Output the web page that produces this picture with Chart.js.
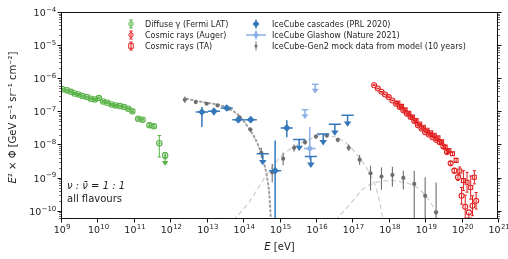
<!DOCTYPE html>
<html><head><meta charset="utf-8">
<script src="https://cdn.jsdelivr.net/npm/chart.js@4.4.0/dist/chart.umd.min.js"></script>
<style>html,body{margin:0;padding:0;background:#fff;overflow:hidden}</style>
</head><body>
<canvas id="c" width="508" height="259"></canvas>
<script>
// ---------- axis ticks ----------
const xTickExp = [9,10,11,12,13,14,15,16,17,18,19,20,21];
const xTickLabels = ['10⁹','10¹⁰','10¹¹','10¹²','10¹³','10¹⁴','10¹⁵','10¹⁶','10¹⁷','10¹⁸','10¹⁹','10²⁰','10²¹'];
const yTickExp = [-10,-9,-8,-7,-6,-5,-4];
const yTickLabels = ['10⁻¹⁰','10⁻⁹','10⁻⁸','10⁻⁷','10⁻⁶','10⁻⁵','10⁻⁴'];

// ---------- data (log10 E [eV], log10 flux) ----------
// Diffuse gamma (Fermi LAT)
const fermiLogE = [9.04,9.16,9.27,9.37,9.48,9.59,9.71,9.82,9.93,10.04,10.16,10.27,10.39,10.50,10.62,10.73,10.85,10.96,11.12,11.24,11.43,11.55,11.70,11.86];
const fermiLogY = [-6.33,-6.36,-6.41,-6.46,-6.49,-6.54,-6.57,-6.62,-6.64,-6.60,-6.70,-6.74,-6.79,-6.82,-6.84,-6.87,-6.92,-7.00,-7.22,-7.25,-7.42,-7.45,-7.96,-8.33];
const fermiErrLo = [0.03,0.03,0.03,0.03,0.03,0.03,0.03,0.03,0.03,0.03,0.03,0.03,0.03,0.03,0.03,0.03,0.03,0.04,0.04,0.04,0.05,0.05,0.42,0.1];
const fermiErrHi = [0.03,0.03,0.03,0.03,0.03,0.03,0.03,0.03,0.03,0.03,0.03,0.03,0.03,0.03,0.03,0.03,0.03,0.04,0.04,0.04,0.05,0.05,0.23,0.08];
const fermiUL = [0,0,0,0,0,0,0,0,0,0,0,0,0,0,0,0,0,0,0,0,0,0,0,1];

// Cosmic rays (Auger)
const augerLogE = [17.6,17.7,17.8,17.9,18.0,18.1,18.2,18.3,18.4,18.5,18.6,18.7,18.8,18.9,19.0,19.1,19.2,19.3,19.4,19.5,19.6,19.7,19.8,19.9,20.0,20.1,20.2,20.3,20.4];
const augerLogY = [-6.21,-6.31,-6.41,-6.49,-6.57,-6.67,-6.77,-6.87,-6.97,-7.07,-7.17,-7.29,-7.42,-7.52,-7.63,-7.70,-7.78,-7.86,-7.93,-8.06,-8.23,-8.57,-8.79,-8.99,-9.55,-9.88,-10.05,-9.85,-9.70];
const augerErr = [0.01,0.01,0.01,0.01,0.01,0.01,0.01,0.01,0.01,0.01,0.01,0.01,0.01,0.01,0.02,0.02,0.02,0.02,0.03,0.03,0.04,0.05,0.07,0.1,0.25,0.35,0,0.3,0.25];
const augerUL = [0,0,0,0,0,0,0,0,0,0,0,0,0,0,0,0,0,0,0,0,0,0,0,0,0,0,1,0,0];

// Cosmic rays (TA)
const taLogE = [18.25,18.35,18.45,18.55,18.65,18.75,18.85,18.95,19.05,19.15,19.25,19.35,19.45,19.55,19.65,19.75,19.85,19.95,20.05,20.15,20.25,20.35];
const taLogY = [-6.75,-6.85,-6.95,-7.06,-7.17,-7.28,-7.38,-7.48,-7.57,-7.65,-7.72,-7.80,-7.92,-8.08,-8.18,-8.28,-8.48,-8.80,-9.09,-9.14,-9.30,-8.99];
const taErr = [0.02,0.02,0.02,0.02,0.02,0.02,0.02,0.02,0.02,0.02,0.03,0.03,0.03,0.04,0.04,0.05,0.06,0.12,0.3,0.3,0.35,0.2];

// IceCube cascades (PRL 2020)
const cascLogE = [12.87,13.20,13.55,13.87,14.21,14.54,14.88,15.20,15.54,15.86,16.20,16.52,16.87];
const cascLogY = [-7.02,-7.00,-6.90,-7.25,-7.25,-8.28,-8.79,-7.50,-7.85,-8.36,-7.68,-7.39,-7.12];
const cascErrLo = [0.45,0.12,0.08,0.08,0.08,0,3.0,0.28,0,0,0,0,0];
const cascErrHi = [0.15,0.10,0.06,0.07,0.07,0,0.91,0.23,0,0,0,0,0];
const cascUL = [0,0,0,0,0,1,0,0,1,1,1,1,1];

// IceCube Glashow (Nature 2021)
const glaLogE = [15.70,15.83,15.98];
const glaLogY = [-6.95,-8.12,-6.18];
const glaErrLo = [0,0.33,0];
const glaErrHi = [0,0.65,0];
const glaHalfBin = [0.09,0.16,0.09];
const glaUL = [1,0,1];

// IceCube-Gen2 mock data from model (10 years)
const gen2LogE = [12.4,12.7,13.0,13.3,13.6,13.9,14.2,14.5,14.8,15.1,15.4,15.7,16.0,16.3,16.6,16.9,17.2,17.5,17.8,18.1,18.4,18.7,19.0,19.3];
const gen2LogY = [-6.65,-6.72,-6.77,-6.82,-6.92,-7.18,-7.55,-8.25,-8.84,-8.43,-8.10,-7.93,-7.76,-7.73,-7.86,-8.10,-8.46,-8.87,-8.97,-8.92,-9.01,-9.19,-9.55,-10.05];
const gen2ErrLo = [0.1,0.05,0.04,0.04,0.04,0.05,0.07,0.15,0.3,0.2,0.12,0.08,0.06,0.06,0.07,0.1,0.15,0.52,0.4,0.35,0.35,2,2,2];
const gen2ErrHi = [0.1,0.05,0.04,0.04,0.04,0.05,0.07,0.15,0.25,0.18,0.1,0.07,0.06,0.06,0.07,0.1,0.14,0.23,0.28,0.25,0.22,0.4,0.56,0.9];

// model components
const modelALogE = [12.45,12.7,13.0,13.3,13.6,13.9,14.2,14.4,14.55,14.65,14.72,14.77];
const modelALogY = [-6.62,-6.68,-6.74,-6.80,-6.90,-7.15,-7.58,-7.98,-8.45,-8.95,-9.5,-10.4];
const modelBLogE = [13.73,14.19,14.6,15.02,15.38,15.75,16.12,16.48,16.85,17.21,17.49,17.7,17.85];
const modelBLogY = [-10.3,-9.7,-8.99,-8.38,-8.08,-7.88,-7.73,-7.76,-7.98,-8.43,-8.89,-9.5,-10.3];
const modelCLogE = [16.53,16.94,17.3,17.67,18.04,18.4,18.77,19.05,19.27,19.37];
const modelCLogY = [-10.3,-9.8,-9.34,-9.14,-9.09,-9.14,-9.29,-9.6,-10.0,-10.3];

// ---------- helpers ----------
const P = v => Math.pow(10, v);
function build(E, Y, lo, hi, dx, ul) {
  return E.map((e, i) => {
    const d = Array.isArray(dx) ? dx[i] : dx;
    return {
      x: P(e), y: P(Y[i]),
      ylo: lo && lo[i] ? P(Y[i] - lo[i]) : null,
      yhi: hi && hi[i] ? P(Y[i] + hi[i]) : null,
      xlo: d ? P(e - d) : null,
      xhi: d ? P(e + d) : null,
      ul: ul ? ul[i] : 0
    };
  });
}
const line = (E, Y) => E.map((e, i) => ({x: P(e), y: P(Y[i])}));

const GREEN = 'rgb(88,178,70)', RED = 'rgb(226,32,32)', DBLUE = 'rgb(52,120,186)', LBLUE = 'rgb(140,175,230)', GRAY = 'rgb(110,110,110)';
const FONT = 'DejaVu Sans';
const TXT = '#1e1e1e';

const datasets = [
  {label:'IceCube cascades (PRL 2020)', data: build(cascLogE, cascLogY, cascErrLo, cascErrHi, 0.167, cascUL),
   pointStyle:'rectRot', pointRadius: c => (c.raw && c.raw.ul) ? 0 : 3.8, backgroundColor: DBLUE, borderColor: DBLUE, borderWidth:0,
   eb:{color:DBLUE, width:1.5, ulLen:10, tri:3.8}},
  {label:'IceCube Glashow (Nature 2021)', data: build(glaLogE, glaLogY, glaErrLo, glaErrHi, glaHalfBin, glaUL),
   pointStyle:'rectRot', pointRadius: c => (c.raw && c.raw.ul) ? 0 : 3.5, backgroundColor: LBLUE, borderColor: LBLUE, borderWidth:0,
   eb:{color:LBLUE, width:1.5, ulLen:8, tri:3.5}},
  {label:'Diffuse γ (Fermi LAT)', data: build(fermiLogE, fermiLogY, fermiErrLo, fermiErrHi, 0.045, fermiUL),
   pointStyle:'circle', pointRadius:2.7, backgroundColor:'rgba(255,255,255,0)', borderColor: GREEN, borderWidth:1.1,
   eb:{color:GREEN, width:1, cap:1.8, ulLen:9, tri:3.3}},
  {label:'Cosmic rays (Auger)', data: build(augerLogE, augerLogY, augerErr, augerErr, 0, augerUL),
   pointStyle:'circle', pointRadius:2.5, backgroundColor:'rgba(255,255,255,0)', borderColor: RED, borderWidth:1.1,
   eb:{color:RED, width:1, cap:1.5, ulLen:8, tri:3}},
  {label:'Cosmic rays (TA)', data: build(taLogE, taLogY, taErr, taErr, 0, null),
   pointStyle:'rect', pointRadius:2.8, backgroundColor:'rgba(255,255,255,0)', borderColor: RED, borderWidth:1.1,
   eb:{color:RED, width:1, cap:1.5, ulLen:8, tri:3}},
  {label:'IceCube-Gen2 mock data from model (10 years)', data: build(gen2LogE, gen2LogY, gen2ErrLo, gen2ErrHi, 0, null),
   pointStyle:'circle', pointRadius:2.1, backgroundColor: GRAY, borderColor: GRAY, borderWidth:0,
   eb:{color:GRAY, width:1.1, ulLen:0, tri:0}},
  {label:'model A', data: line(modelALogE, modelALogY), showLine:true, pointRadius:0, borderColor:'rgb(160,160,160)', borderWidth:2, borderDash:[1.5,3], borderCapStyle:'round', cubicInterpolationMode:'monotone', tension:0.4},
  {label:'model B', data: line(modelBLogE, modelBLogY), showLine:true, pointRadius:0, borderColor:'rgb(208,208,208)', borderWidth:1.3, borderDash:[5,3], tension:0.4, cubicInterpolationMode:'monotone'},
  {label:'model C', data: line(modelCLogE, modelCLogY), showLine:true, pointRadius:0, borderColor:'rgb(208,208,208)', borderWidth:1.3, borderDash:[5,3], tension:0.4, cubicInterpolationMode:'monotone'}
];

// ---------- plugins ----------
const errorBars = {
  id: 'errorBars',
  beforeDatasetDraw(chart, args) {
    const ds = chart.data.datasets[args.index];
    if (!ds.eb) return;
    const {ctx, chartArea: a, scales: {x: xs, y: ys}} = chart;
    const eb = ds.eb;
    ctx.save();
    ctx.beginPath(); ctx.rect(a.left, a.top, a.width, a.height); ctx.clip();
    ctx.strokeStyle = eb.color; ctx.fillStyle = eb.color; ctx.lineWidth = eb.width;
    ds.data.forEach(p => {
      const px = xs.getPixelForValue(p.x), py = ys.getPixelForValue(p.y);
      ctx.beginPath();
      if (p.xlo != null) { ctx.moveTo(xs.getPixelForValue(p.xlo), py); ctx.lineTo(xs.getPixelForValue(p.xhi), py); }
      if (p.ylo != null || p.yhi != null) {
        const y1 = p.ylo != null ? ys.getPixelForValue(p.ylo) : py;
        const y2 = p.yhi != null ? ys.getPixelForValue(p.yhi) : py;
        ctx.moveTo(px, y1); ctx.lineTo(px, y2);
        if (eb.cap) { ctx.moveTo(px - eb.cap, y1); ctx.lineTo(px + eb.cap, y1); ctx.moveTo(px - eb.cap, y2); ctx.lineTo(px + eb.cap, y2); }
      }
      if (p.ul) { ctx.moveTo(px, py); ctx.lineTo(px, py + eb.ulLen); }
      ctx.stroke();
      if (p.ul) {
        const t = py + eb.ulLen, w = eb.tri;
        ctx.beginPath(); ctx.moveTo(px - w, t - w); ctx.lineTo(px + w, t - w); ctx.lineTo(px, t + w * 0.4); ctx.closePath(); ctx.fill();
      }
    });
    ctx.restore();
  }
};

// draws "10" followed by a raised exponent, taking the exponent from the unicode label
const SUP = {'⁰':'0','¹':'1','²':'2','³':'3','⁴':'4','⁵':'5','⁶':'6','⁷':'7','⁸':'8','⁹':'9','⁻':'−'};
function powLabel(ctx, label, x, y, align) {
  const base = label.slice(0, 2);
  const exp = Array.from(label.slice(2)).map(ch => SUP[ch] || ch).join('');
  ctx.font = '9.5px "' + FONT + '"'; const wb = ctx.measureText(base).width;
  ctx.font = '7px "' + FONT + '"'; const we = ctx.measureText(exp).width;
  let x0 = align === 'right' ? x - wb - we : x - (wb + we) / 2;
  ctx.textAlign = 'left'; ctx.textBaseline = 'alphabetic';
  ctx.font = '9.5px "' + FONT + '"'; ctx.fillText(base, x0, y);
  ctx.font = '7px "' + FONT + '"'; ctx.fillText(exp, x0 + wb + 0.3, y - 4.2);
}

const frame = {
  id: 'frame',
  afterDraw(chart) {
    const {ctx, chartArea: a, scales: {x: xs, y: ys}} = chart;
    ctx.save();
    ctx.strokeStyle = '#111'; ctx.lineWidth = 1;
    ctx.strokeRect(a.left + 0.5, a.top + 0.5, a.width - 1, a.height - 1);
    // x ticks + labels
    ctx.beginPath();
    xTickExp.forEach(e => { const x = Math.round(xs.getPixelForValue(P(e))) + 0.5; ctx.moveTo(x, a.bottom); ctx.lineTo(x, a.bottom + 3.5); });
    ctx.stroke();
    ctx.fillStyle = TXT;
    xTickExp.forEach((e, i) => powLabel(ctx, xTickLabels[i], xs.getPixelForValue(P(e)) + 1, a.bottom + 14, 'center'));
    yTickExp.forEach((e, i) => powLabel(ctx, yTickLabels[i], a.left - 5, ys.getPixelForValue(P(e)) + 4, 'right'));
    // y ticks (major + minor), left and right
    for (let e = -11; e <= -4; e++) {
      for (let m = 1; m <= 9; m++) {
        const v = m * P(e);
        if (v < ys.min || v > ys.max * 1.0001) continue;
        const y = Math.round(ys.getPixelForValue(v)) + 0.5;
        const len = m === 1 ? 3.5 : 2;
        ctx.lineWidth = m === 1 ? 1 : 0.6;
        ctx.beginPath();
        ctx.moveTo(a.left, y); ctx.lineTo(a.left - len, y);
        ctx.moveTo(a.right, y); ctx.lineTo(a.right + len, y);
        ctx.stroke();
      }
    }
    // axis titles
    ctx.fillStyle = TXT;
    ctx.textBaseline = 'middle';
    const xt1 = 'E', xt2 = ' [eV]';
    ctx.font = 'italic 10px "' + FONT + '"'; const w1 = ctx.measureText(xt1).width;
    ctx.font = '10px "' + FONT + '"'; const w2 = ctx.measureText(xt2).width;
    const cx = (a.left + a.right) / 2 - (w1 + w2) / 2;
    ctx.textAlign = 'left';
    ctx.font = 'italic 10px "' + FONT + '"'; ctx.fillText(xt1, cx, 247);
    ctx.font = '10px "' + FONT + '"'; ctx.fillText(xt2, cx + w1, 247);
    // y title (rotated)
    ctx.save();
    ctx.translate(13, (a.top + a.bottom) / 2 + 2);
    ctx.rotate(-Math.PI / 2);
    const yt1 = 'E', yt2 = '² × Φ [GeV s⁻¹ sr⁻¹ cm⁻²]';
    ctx.font = 'italic 10px "' + FONT + '"'; const v1 = ctx.measureText(yt1).width;
    ctx.font = '10px "' + FONT + '"'; const v2 = ctx.measureText(yt2).width;
    const sx = -(v1 + v2) / 2;
    ctx.font = 'italic 10px "' + FONT + '"'; ctx.fillText(yt1, sx, 0);
    ctx.font = '10px "' + FONT + '"'; ctx.fillText(yt2, sx + v1, 0);
    ctx.restore();
    // annotation
    ctx.font = 'italic 10px "' + FONT + '"';
    ctx.textAlign = 'left';
    ctx.fillText('ν : ν̄ = 1 : 1', 67, 186);
    ctx.font = '10px "' + FONT + '"';
    ctx.fillText('all flavours', 67, 199);
    // legend
    const legend = [
      {t:'Diffuse γ (Fermi LAT)', c:GREEN, s:'circleOpen', x:131, y:24},
      {t:'Cosmic rays (Auger)', c:RED, s:'circleOpen', x:131, y:35},
      {t:'Cosmic rays (TA)', c:RED, s:'square', x:131, y:46},
      {t:'IceCube cascades (PRL 2020)', c:DBLUE, s:'diamond', x:256, y:24},
      {t:'IceCube Glashow (Nature 2021)', c:LBLUE, s:'glashow', x:256, y:35},
      {t:'IceCube-Gen2 mock data from model (10 years)', c:GRAY, s:'dot', x:256, y:46}
    ];
    ctx.font = '8px "' + FONT + '"';
    legend.forEach(L => {
      ctx.strokeStyle = L.c; ctx.fillStyle = L.c; ctx.lineWidth = 1;
      const x = L.x, y = L.y;
      ctx.beginPath();
      if (L.s === 'circleOpen' || L.s === 'square') {
        ctx.moveTo(x, y - 4); ctx.lineTo(x, y + 4);
        ctx.moveTo(x - 1.8, y - 4); ctx.lineTo(x + 1.8, y - 4);
        ctx.moveTo(x - 1.8, y + 4); ctx.lineTo(x + 1.8, y + 4);
        ctx.stroke();
        ctx.beginPath();
        if (L.s === 'square') ctx.rect(x - 2.3, y - 2.3, 4.6, 4.6); else ctx.arc(x, y, 2.2, 0, Math.PI * 2);
        ctx.stroke();
      } else if (L.s === 'diamond') {
        ctx.lineWidth = 1.4;
        ctx.moveTo(x, y - 4.5); ctx.lineTo(x, y + 4.5); ctx.stroke();
        ctx.beginPath(); ctx.moveTo(x, y - 3.5); ctx.lineTo(x + 3.5, y); ctx.lineTo(x, y + 3.5); ctx.lineTo(x - 3.5, y); ctx.closePath(); ctx.fill();
      } else if (L.s === 'glashow') {
        ctx.lineWidth = 1.4;
        ctx.moveTo(x - 10, y); ctx.lineTo(x + 10, y);
        ctx.moveTo(x, y - 4.5); ctx.lineTo(x, y + 4.5); ctx.stroke();
        ctx.beginPath(); ctx.moveTo(x, y - 3.2); ctx.lineTo(x + 3.2, y); ctx.lineTo(x, y + 3.2); ctx.lineTo(x - 3.2, y); ctx.closePath(); ctx.fill();
      } else {
        ctx.moveTo(x, y - 4.5); ctx.lineTo(x, y + 4.5); ctx.stroke();
        ctx.beginPath(); ctx.arc(x, y, 1.5, 0, Math.PI * 2); ctx.fill();
      }
      ctx.fillStyle = TXT;
      ctx.fillText(L.t, L.x < 200 ? 145 : 272, y + 0.5);
    });
    ctx.restore();
  }
};

new Chart(document.getElementById('c'), {
  type: 'scatter',
  data: { datasets },
  options: {
    responsive: false, animation: false, devicePixelRatio: 1,
    layout: { padding: { left: 0, right: 10, top: 12, bottom: 0 } },
    plugins: { legend: { display: false }, tooltip: { enabled: false } },
    scales: {
      x: {
        type: 'logarithmic', min: P(9), max: P(21),
        afterBuildTicks: s => { s.ticks = xTickExp.map(e => ({ value: P(e) })); },
        afterFit: s => { s.height = 40; },
        grid: { display: false, drawTicks: false }, border: { display: false },
        ticks: { display: false, callback: (v, i) => xTickLabels[i] }
      },
      y: {
        type: 'logarithmic', min: P(-10.25), max: P(-4),
        afterBuildTicks: s => { s.ticks = yTickExp.map(e => ({ value: P(e) })); },
        afterFit: s => { s.width = 61; },
        grid: { display: false, drawTicks: false }, border: { display: false },
        ticks: { display: false, callback: (v, i) => yTickLabels[i] }
      }
    }
  },
  plugins: [errorBars, frame]
});
</script>
</body></html>
